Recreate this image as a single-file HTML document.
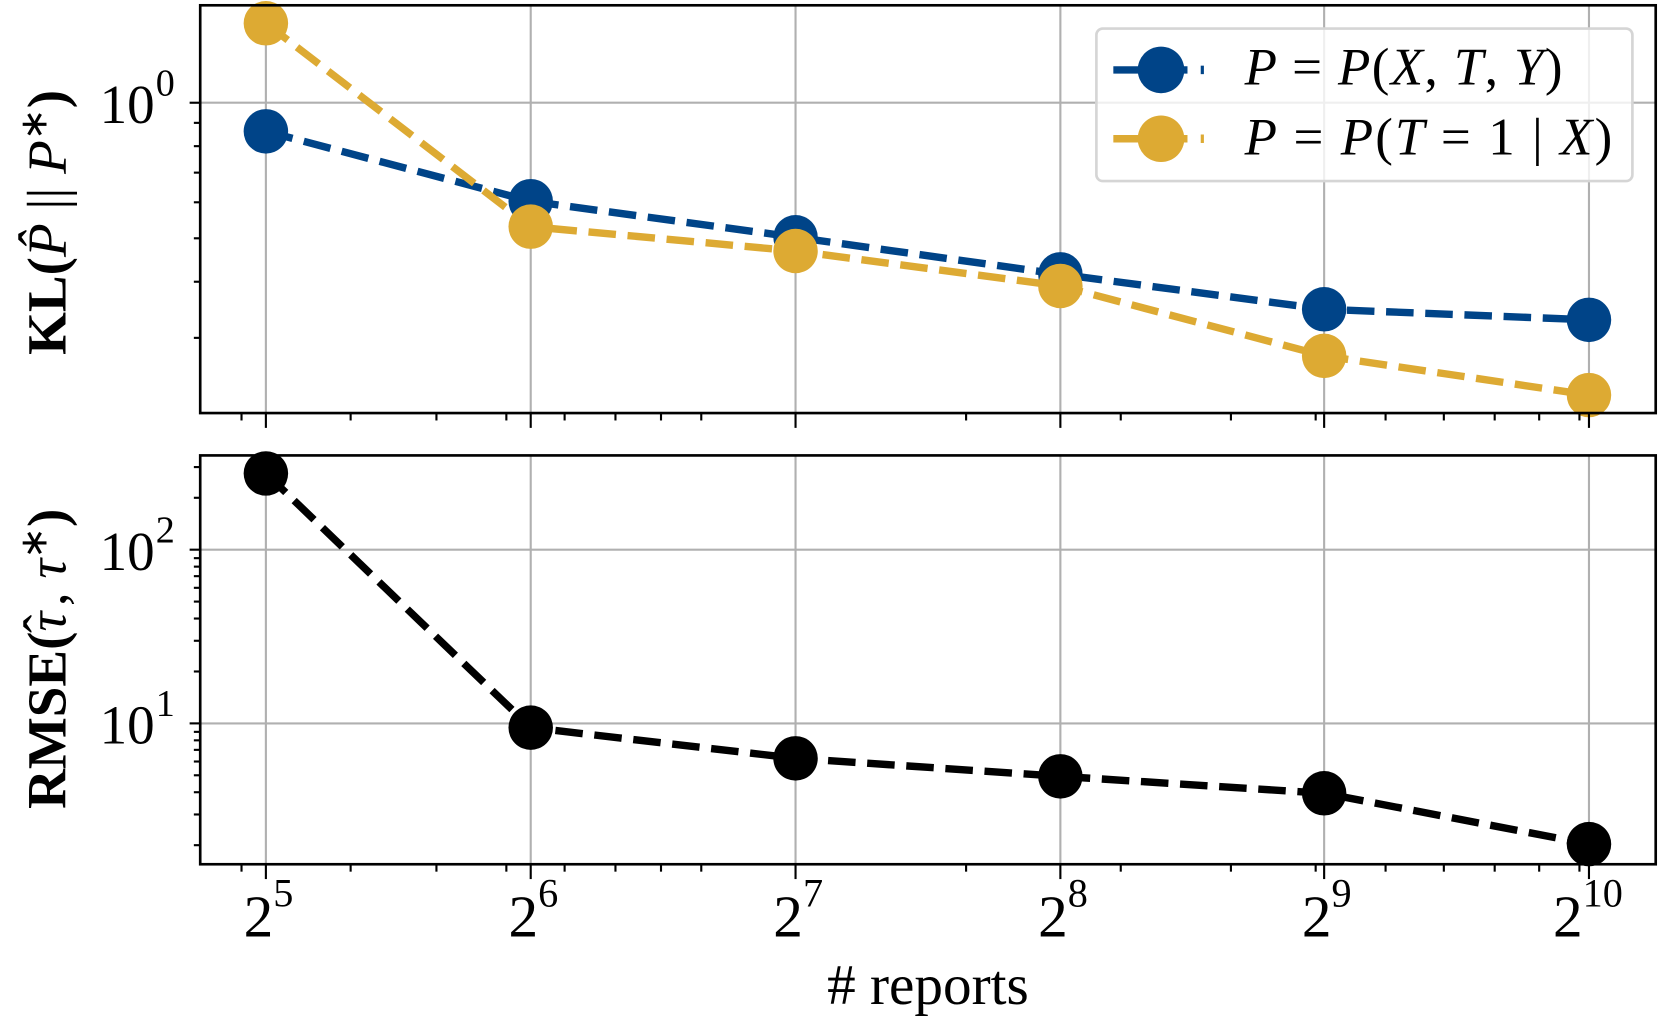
<!DOCTYPE html>
<html><head><meta charset="utf-8"><style>html,body{margin:0;padding:0;background:#fff}svg{display:block}</style></head>
<body>
<svg width="1661" height="1021" viewBox="0 0 1568 964" preserveAspectRatio="none" xmlns="http://www.w3.org/2000/svg" font-family="Liberation Serif, serif">
<rect width="1568" height="964" fill="#fff"/>
<g stroke="#b0b0b0" stroke-width="2">
<line x1="251" y1="5" x2="251" y2="390"/><line x1="501" y1="5" x2="501" y2="390"/><line x1="751" y1="5" x2="751" y2="390"/><line x1="1001" y1="5" x2="1001" y2="390"/><line x1="1250" y1="5" x2="1250" y2="390"/><line x1="1500" y1="5" x2="1500" y2="390"/>
<line x1="189" y1="97" x2="1563" y2="97"/>
<line x1="251" y1="430" x2="251" y2="816"/><line x1="501" y1="430" x2="501" y2="816"/><line x1="751" y1="430" x2="751" y2="816"/><line x1="1001" y1="430" x2="1001" y2="816"/><line x1="1250" y1="430" x2="1250" y2="816"/><line x1="1500" y1="430" x2="1500" y2="816"/>
<line x1="189" y1="519" x2="1563" y2="519"/><line x1="189" y1="683" x2="1563" y2="683"/>
</g>
<polyline points="251,124 501,190 751,224 1001,259 1250,292 1500,302" fill="none" stroke="#004488" stroke-width="7" stroke-dasharray="26,11"/>
<polyline points="251,22 501,214 751,237 1001,270 1250,336 1500,373" fill="none" stroke="#DDAA33" stroke-width="7" stroke-dasharray="26,11"/>
<g fill="#004488"><circle cx="251" cy="124" r="21"/><circle cx="501" cy="190" r="21"/><circle cx="751" cy="224" r="21"/><circle cx="1001" cy="259" r="21"/><circle cx="1250" cy="292" r="21"/><circle cx="1500" cy="302" r="21"/></g>
<g fill="#DDAA33"><circle cx="251" cy="22" r="21"/><circle cx="501" cy="214" r="21"/><circle cx="751" cy="237" r="21"/><circle cx="1001" cy="270" r="21"/><circle cx="1250" cy="336" r="21"/><circle cx="1500" cy="373" r="21"/></g>
<polyline points="251,447 501,687 751,716 1001,733 1250,749 1500,797" fill="none" stroke="#000" stroke-width="7" stroke-dasharray="26,11"/>
<g fill="#000"><circle cx="251" cy="447" r="21"/><circle cx="501" cy="687" r="21"/><circle cx="751" cy="716" r="21"/><circle cx="1001" cy="733" r="21"/><circle cx="1250" cy="749" r="21"/><circle cx="1500" cy="797" r="21"/></g>
<rect x="1035" y="27" width="506" height="144" rx="6" fill="#fff" fill-opacity="0.8" stroke="#d5d5d5" stroke-width="2.5"/>
<line x1="1051" y1="66" x2="1121" y2="66" stroke="#004488" stroke-width="7"/>
<line x1="1135" y1="62" x2="1135" y2="70" stroke="#004488" stroke-width="3"/>
<circle cx="1096" cy="66" r="22" fill="#004488"/>
<line x1="1051" y1="131" x2="1121" y2="131" stroke="#DDAA33" stroke-width="7"/>
<line x1="1135" y1="127" x2="1135" y2="135" stroke="#DDAA33" stroke-width="3"/>
<circle cx="1096" cy="131" r="22" fill="#DDAA33"/>
<text x="1175" y="80" font-size="50" font-style="italic" textLength="300" lengthAdjust="spacing">P <tspan font-style="normal">=</tspan> P<tspan font-style="normal">(</tspan>X<tspan font-style="normal">,</tspan> T<tspan font-style="normal">,</tspan> Y<tspan font-style="normal">)</tspan></text>
<text x="1175" y="146" font-size="50" font-style="italic" textLength="347" lengthAdjust="spacing">P <tspan font-style="normal">=</tspan> P<tspan font-style="normal">(</tspan>T <tspan font-style="normal">= 1 | </tspan>X<tspan font-style="normal">)</tspan></text>
<rect x="189" y="5" width="1374" height="385" fill="none" stroke="#000" stroke-width="2.5"/>
<rect x="189" y="430" width="1374" height="386" fill="none" stroke="#000" stroke-width="2.5"/>
<g stroke="#000" stroke-width="2">
<line x1="179" y1="97" x2="189" y2="97"/>
<line x1="183" y1="116" x2="189" y2="116"/><line x1="183" y1="138" x2="189" y2="138"/><line x1="183" y1="163" x2="189" y2="163"/><line x1="183" y1="191" x2="189" y2="191"/><line x1="183" y1="225" x2="189" y2="225"/><line x1="183" y1="266" x2="189" y2="266"/><line x1="183" y1="319" x2="189" y2="319"/>
<line x1="179" y1="519" x2="189" y2="519"/><line x1="179" y1="683" x2="189" y2="683"/>
<line x1="183" y1="441" x2="189" y2="441"/><line x1="183" y1="470" x2="189" y2="470"/>
<line x1="183" y1="527" x2="189" y2="527"/><line x1="183" y1="535" x2="189" y2="535"/><line x1="183" y1="544" x2="189" y2="544"/><line x1="183" y1="555" x2="189" y2="555"/><line x1="183" y1="568" x2="189" y2="568"/><line x1="183" y1="584" x2="189" y2="584"/><line x1="183" y1="605" x2="189" y2="605"/><line x1="183" y1="634" x2="189" y2="634"/>
<line x1="183" y1="691" x2="189" y2="691"/><line x1="183" y1="699" x2="189" y2="699"/><line x1="183" y1="708" x2="189" y2="708"/><line x1="183" y1="719" x2="189" y2="719"/><line x1="183" y1="732" x2="189" y2="732"/><line x1="183" y1="748" x2="189" y2="748"/><line x1="183" y1="769" x2="189" y2="769"/><line x1="183" y1="798" x2="189" y2="798"/>
</g>
<g stroke="#000" stroke-width="2">
<line x1="251" y1="390" x2="251" y2="404"/><line x1="501" y1="390" x2="501" y2="404"/><line x1="751" y1="390" x2="751" y2="404"/><line x1="1001" y1="390" x2="1001" y2="404"/><line x1="1250" y1="390" x2="1250" y2="404"/><line x1="1500" y1="390" x2="1500" y2="404"/>
<line x1="228" y1="390" x2="228" y2="397"/><line x1="331" y1="390" x2="331" y2="397"/><line x1="412" y1="390" x2="412" y2="397"/><line x1="478" y1="390" x2="478" y2="397"/><line x1="533" y1="390" x2="533" y2="397"/><line x1="581" y1="390" x2="581" y2="397"/><line x1="624" y1="390" x2="624" y2="397"/><line x1="662" y1="390" x2="662" y2="397"/><line x1="912" y1="390" x2="912" y2="397"/><line x1="1058" y1="390" x2="1058" y2="397"/><line x1="1162" y1="390" x2="1162" y2="397"/><line x1="1242" y1="390" x2="1242" y2="397"/><line x1="1308" y1="390" x2="1308" y2="397"/><line x1="1363" y1="390" x2="1363" y2="397"/><line x1="1411" y1="390" x2="1411" y2="397"/><line x1="1453" y1="390" x2="1453" y2="397"/><line x1="1491" y1="390" x2="1491" y2="397"/>
</g>
<g transform="translate(0,426)" stroke="#000" stroke-width="2">
<line x1="251" y1="390" x2="251" y2="404"/><line x1="501" y1="390" x2="501" y2="404"/><line x1="751" y1="390" x2="751" y2="404"/><line x1="1001" y1="390" x2="1001" y2="404"/><line x1="1250" y1="390" x2="1250" y2="404"/><line x1="1500" y1="390" x2="1500" y2="404"/>
<line x1="228" y1="390" x2="228" y2="397"/><line x1="331" y1="390" x2="331" y2="397"/><line x1="412" y1="390" x2="412" y2="397"/><line x1="478" y1="390" x2="478" y2="397"/><line x1="533" y1="390" x2="533" y2="397"/><line x1="581" y1="390" x2="581" y2="397"/><line x1="624" y1="390" x2="624" y2="397"/><line x1="662" y1="390" x2="662" y2="397"/><line x1="912" y1="390" x2="912" y2="397"/><line x1="1058" y1="390" x2="1058" y2="397"/><line x1="1162" y1="390" x2="1162" y2="397"/><line x1="1242" y1="390" x2="1242" y2="397"/><line x1="1308" y1="390" x2="1308" y2="397"/><line x1="1363" y1="390" x2="1363" y2="397"/><line x1="1411" y1="390" x2="1411" y2="397"/><line x1="1453" y1="390" x2="1453" y2="397"/><line x1="1491" y1="390" x2="1491" y2="397"/>
</g>
<g font-size="52" text-anchor="end">
<text x="146" y="116">10</text><text x="146" y="538">10</text><text x="146" y="702">10</text>
</g>
<g font-size="36"><text x="147" y="90">0</text><text x="147" y="512">2</text><text x="147" y="676">1</text></g>
<g font-size="56" text-anchor="end">
<text x="258" y="884">2</text><text x="508" y="884">2</text><text x="758" y="884">2</text><text x="1008" y="884">2</text><text x="1257" y="884">2</text><text x="1494" y="884">2</text>
</g>
<g font-size="38"><text x="258" y="856">5</text><text x="508" y="856">6</text><text x="758" y="856">7</text><text x="1008" y="856">8</text><text x="1257" y="856">9</text><text x="1494" y="856">10</text></g>
<text x="876" y="948" font-size="54" text-anchor="middle"># reports</text>
<text transform="translate(62,210) rotate(-90)" font-size="52" font-weight="bold" text-anchor="middle">KL(<tspan font-weight="normal" font-style="italic">P̂</tspan><tspan font-weight="normal"> || </tspan><tspan font-weight="normal" font-style="italic">P</tspan><tspan font-weight="normal" dy="-18" font-size="36">∗</tspan><tspan dy="18">)</tspan></text>
<text transform="translate(62,622) rotate(-90)" font-size="52" font-weight="bold" text-anchor="middle">RMSE(<tspan font-weight="normal" font-style="italic">τ</tspan><tspan font-weight="normal" dx="-20" dy="-4">ˆ</tspan><tspan font-weight="normal" dx="8" dy="4">, </tspan><tspan font-weight="normal" font-style="italic">τ</tspan><tspan font-weight="normal" dy="-18" font-size="36">∗</tspan><tspan dy="18">)</tspan></text>
</svg>
</body></html>
